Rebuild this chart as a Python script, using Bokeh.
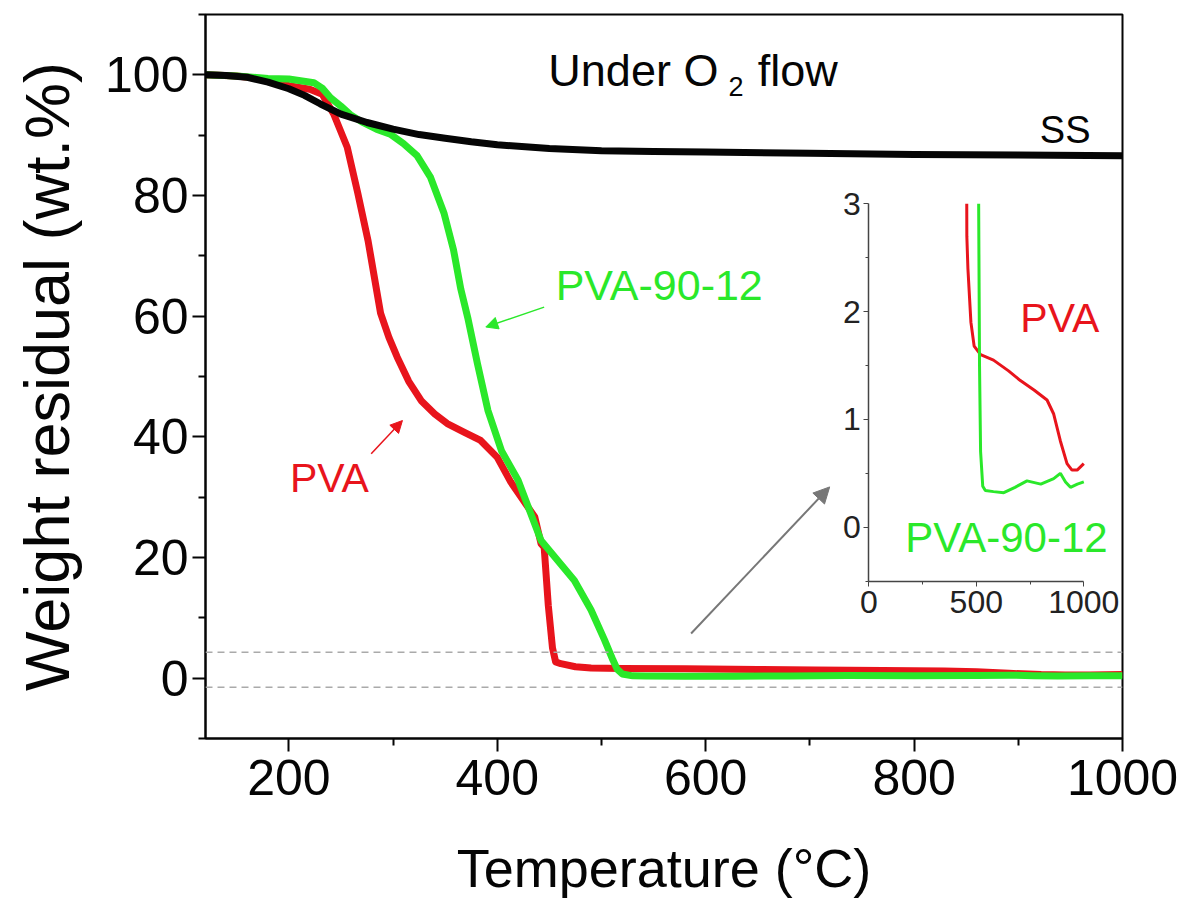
from bokeh.plotting import figure
from bokeh.models import (Range1d, LinearAxis, FixedTicker, Span, Arrow,
                          NormalHead, Label)
from bokeh.embed import file_html
from bokeh.resources import INLINE

# ---------------- data ----------------
ss_T = [120, 140, 160, 180, 200, 215, 230, 250, 275, 300, 325, 350, 375, 400,
        450, 500, 550, 600, 700, 800, 900, 1000]
ss_w = [100, 99.9, 99.6, 98.8, 97.7, 96.6, 95.2, 93.5, 92.1, 91.0, 90.1, 89.5,
        88.9, 88.4, 87.8, 87.4, 87.3, 87.2, 87.0, 86.8, 86.7, 86.6]

pva_T = [120, 150, 180, 200, 220, 232, 243, 256, 266, 276, 288, 296, 304, 315,
         327, 340, 352, 368, 384, 400, 413, 436, 442, 445, 449, 453, 456, 461,
         475, 490, 520, 580, 650, 705, 770, 829, 860, 891, 922, 945, 969, 1000]
pva_w = [100, 99.8, 99.2, 98.2, 97.6, 96.8, 93.5, 88.0, 80.5, 72.5, 60.5, 56.5,
         53.2, 49.2, 46.0, 43.8, 42.2, 40.8, 39.4, 36.6, 32.5, 26.7, 22.3, 21.7,
         12.0, 5.0, 2.7, 2.4, 1.9, 1.68, 1.6, 1.55, 1.45, 1.36, 1.27, 1.18, 1.05,
         0.8, 0.59, 0.53, 0.53, 0.59]

pva9012_T = [120, 150, 180, 200, 224, 232, 240, 250, 259, 270, 284, 298, 310,
             323, 336, 349, 358, 365, 372, 381, 391, 404, 420, 442, 458, 474,
             490, 503, 511, 515, 520, 530, 542, 580, 628, 680, 736, 800, 860,
             891, 915, 938, 970, 1000]
pva9012_w = [100, 99.8, 99.4, 99.3, 98.7, 97.8, 96.2, 94.8, 93.4, 92.2, 91.0,
             90.1, 88.6, 86.6, 83.0, 77.0, 71.0, 64.5, 59.5, 52.1, 44.4, 37.7,
             32.8, 22.8, 19.5, 16.2, 11.3, 6.3, 3.0, 1.5, 0.7, 0.38, 0.34, 0.33,
             0.32, 0.37, 0.43, 0.40, 0.45, 0.50, 0.42, 0.37, 0.40, 0.42]

x_major_ticks = [200, 400, 600, 800, 1000]
x_minor_ticks = [300, 500, 700, 900]
y_major_ticks = [0, 20, 40, 60, 80, 100]
y_minor_ticks = [-10, 10, 30, 50, 70, 90, 110]
inset_x_ticks = [0, 500, 1000]
inset_x_minor = [250, 750]
inset_y_ticks = [0, 1, 2, 3]
inset_y_minor = [-0.5, 0.5, 1.5, 2.5]
dashed_levels = [4.3, -1.5]

RED = "#e8141c"
GREEN = "#2ae82a"
BLACK = "#050505"
FONT = "Liberation Sans"

# ---------------- figure ----------------
p = figure(frame_width=917, frame_height=724, min_border_left=205,
           min_border_right=63, min_border_top=14, min_border_bottom=150,
           x_range=Range1d(120, 1000), y_range=Range1d(-10, 110),
           x_axis_type=None, y_axis_type=None,
           toolbar_location=None, output_backend="svg",
           background_fill_color="white", border_fill_color="white")
p.grid.visible = False
p.outline_line_color = BLACK
p.outline_line_width = 2

xax = LinearAxis(ticker=FixedTicker(ticks=x_major_ticks, minor_ticks=x_minor_ticks))
yax = LinearAxis(ticker=FixedTicker(ticks=y_major_ticks, minor_ticks=y_minor_ticks))
for ax in (xax, yax):
    ax.axis_line_color = BLACK
    ax.axis_line_width = 2
    ax.major_tick_line_color = BLACK
    ax.major_tick_line_width = 2
    ax.minor_tick_line_color = BLACK
    ax.minor_tick_line_width = 2
    ax.major_tick_in = 0
    ax.major_tick_out = 13
    ax.minor_tick_in = 0
    ax.minor_tick_out = 7
    ax.major_label_text_font = FONT
    ax.major_label_text_font_size = "50px"
    ax.major_label_text_color = BLACK
    ax.axis_label_text_font = FONT
    ax.axis_label_text_font_style = "normal"
    ax.axis_label_text_color = BLACK
xax.axis_label = "Temperature (°C)"
yax.axis_label = "Weight residual (wt.%)"
xax.axis_label_text_font_size = "54px"
yax.axis_label_text_font_size = "63px"
xax.major_label_standoff = 8
xax.axis_label_standoff = 40
yax.major_label_standoff = 4
yax.axis_label_standoff = 20
p.add_layout(xax, "below")
p.add_layout(yax, "left")

for lvl in dashed_levels:
    p.add_layout(Span(location=lvl, dimension="width", line_color="#aaaaaa",
                      line_width=1.5, line_dash="7 5"))

p.line(pva_T, pva_w, line_color=RED, line_width=7, line_join="round")
p.line(pva9012_T, pva9012_w, line_color=GREEN, line_width=7, line_join="round")
p.line(ss_T, ss_w, line_color=BLACK, line_width=7, line_join="round")

# ---------------- inset (same data, zoomed, via extra ranges) ----------------
p.extra_x_ranges = {"ix": Range1d(-3085, 1180)}
p.extra_y_ranges = {"iy": Range1d(-1.96, 4.756)}
INSET_TOP = 3


def clip_top(xs, ys, ymax):
    ox, oy = [], []
    for i in range(len(xs)):
        if ys[i] <= ymax:
            if i > 0 and ys[i - 1] > ymax:
                t = (ymax - ys[i - 1]) / (ys[i] - ys[i - 1])
                ox.append(xs[i - 1] + t * (xs[i] - xs[i - 1]))
                oy.append(ymax)
            ox.append(xs[i])
            oy.append(ys[i])
    return ox, oy


rx, ry = clip_top(pva_T, pva_w, INSET_TOP)
gx, gy = clip_top(pva9012_T, pva9012_w, INSET_TOP)
p.line(rx, ry, line_color=RED, line_width=3, x_range_name="ix", y_range_name="iy")
p.line(gx, gy, line_color=GREEN, line_width=3, x_range_name="ix", y_range_name="iy")

iax_y = LinearAxis(x_range_name="ix", y_range_name="iy", fixed_location=0,
                   bounds=(-0.5, 3),
                   ticker=FixedTicker(ticks=inset_y_ticks, minor_ticks=inset_y_minor))
iax_x = LinearAxis(x_range_name="ix", y_range_name="iy", fixed_location=-0.5,
                   bounds=(0, 1000),
                   ticker=FixedTicker(ticks=inset_x_ticks, minor_ticks=inset_x_minor))
for ax in (iax_y, iax_x):
    ax.axis_line_color = "#444444"
    ax.axis_line_width = 1.5
    ax.major_tick_line_color = "#444444"
    ax.minor_tick_line_color = "#444444"
    ax.major_tick_in = 0
    ax.major_tick_out = 5
    ax.minor_tick_in = 0
    ax.minor_tick_out = 3
    ax.major_label_text_font = FONT
    ax.major_label_text_font_size = "32px"
    ax.major_label_text_color = "#222222"
iax_y.major_label_standoff = 3
iax_x.major_label_standoff = 5
p.add_layout(iax_y, "left")
p.add_layout(iax_x, "below")

# ---------------- annotations ----------------
def lab(x, y, text, size, color, align="left", baseline="middle", **kw):
    p.add_layout(Label(x=x, y=y, text=text, text_font=FONT,
                       text_font_size=size, text_color=color,
                       text_align=align, text_baseline=baseline, **kw))


lab(449, 100.7, "Under O", "45px", BLACK, baseline="alphabetic")
lab(622, 98.0, "2", "27px", BLACK, baseline="alphabetic")
lab(650, 100.7, "flow", "45px", BLACK, baseline="alphabetic")
lab(945, 90.8, "SS", "38px", BLACK, align="center", baseline="alphabetic")
lab(456, 65.1, "PVA-90-12", "43px", GREEN)
lab(201, 33.1, "PVA", "41px", RED)
lab(705, 1.94, "PVA", "41px", RED, x_range_name="ix", y_range_name="iy")
lab(170, -0.1, "PVA-90-12", "42px", GREEN, x_range_name="ix", y_range_name="iy")

p.add_layout(Arrow(x_start=445, y_start=61.5, x_end=389, y_end=58.2,
                   line_color=GREEN, line_width=1.5,
                   end=NormalHead(size=12, fill_color=GREEN, line_color=GREEN)))
p.add_layout(Arrow(x_start=279, y_start=37.2, x_end=309, y_end=42.7,
                   line_color=RED, line_width=1.5,
                   end=NormalHead(size=12, fill_color=RED, line_color=RED)))
p.add_layout(Arrow(x_start=586, y_start=7.4, x_end=719, y_end=31.7,
                   line_color="#777777", line_width=2,
                   end=NormalHead(size=16, fill_color="#777777", line_color="#777777")))

open("out.html", "w").write(file_html(p, INLINE))
